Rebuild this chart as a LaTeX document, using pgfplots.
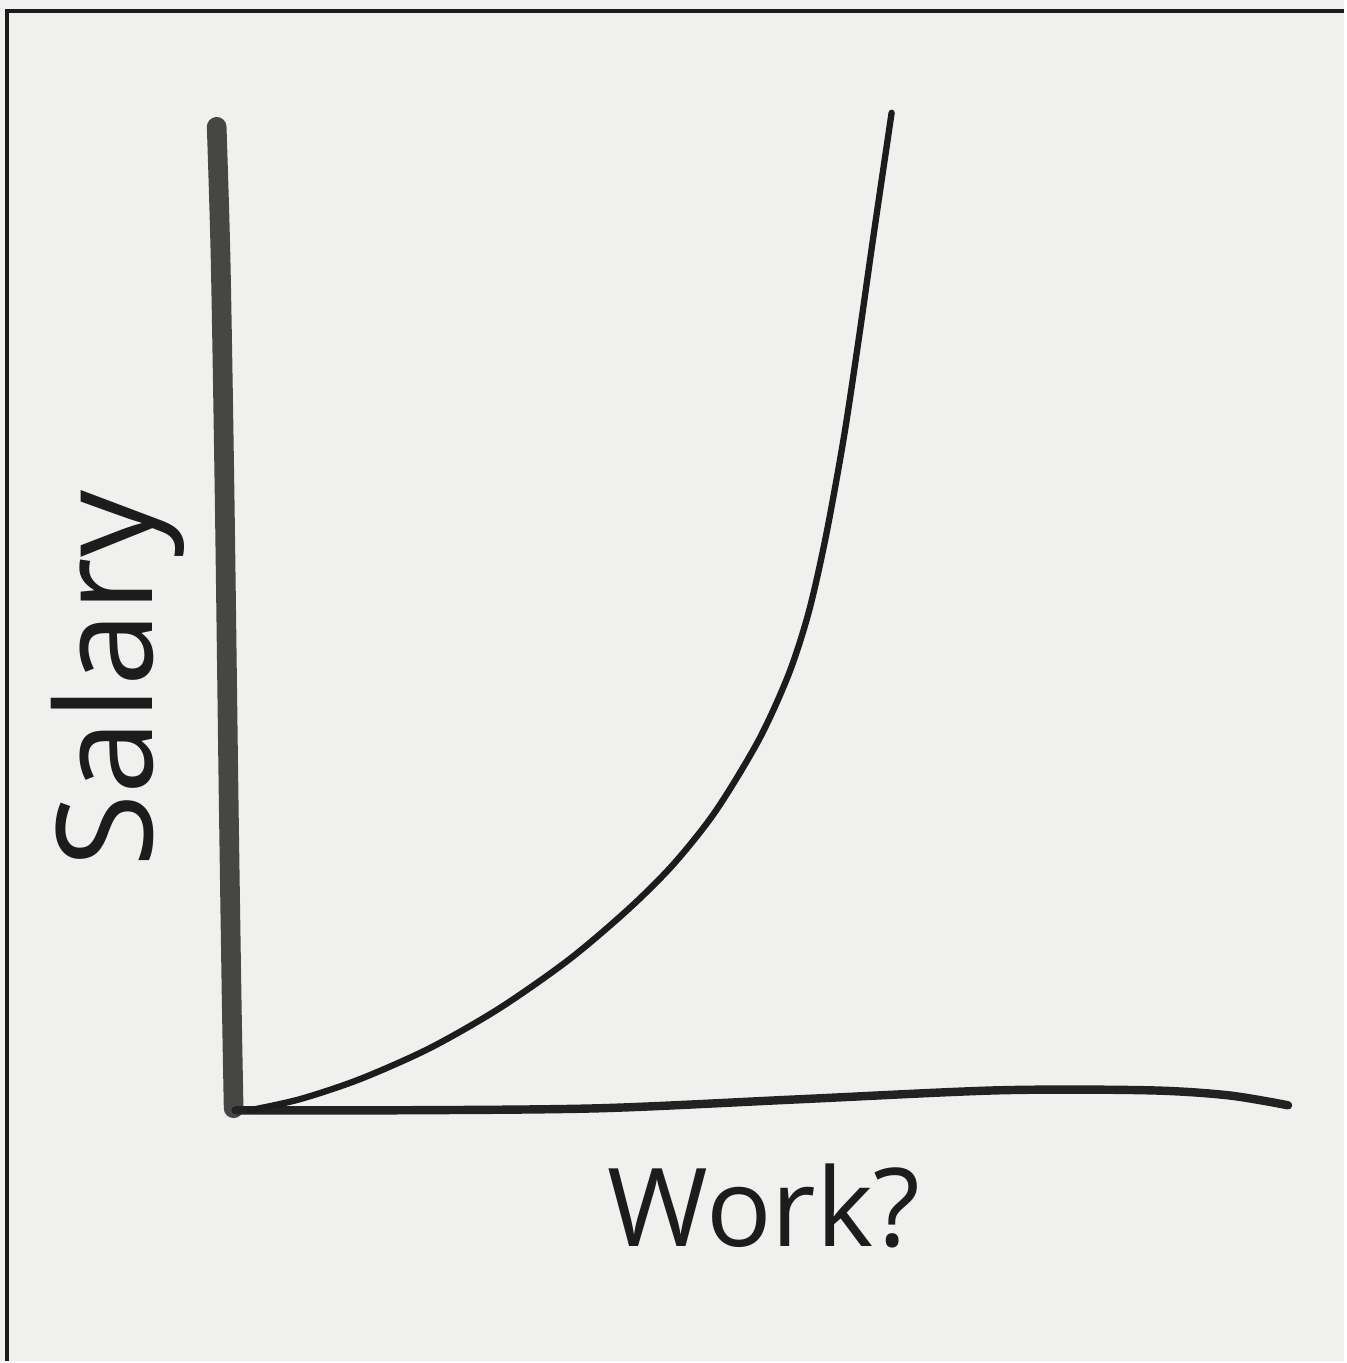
\documentclass[border=0pt]{standalone}
\usepackage{pgfplots}
\pgfplotsset{compat=1.18}
\usepackage{fontspec}
\setmainfont{Open Sans}
\definecolor{paper}{RGB}{240,240,238}
\definecolor{ink}{RGB}{28,28,28}
\definecolor{axisink}{RGB}{70,70,68}
\begin{document}
\begin{tikzpicture}
\begin{axis}[
  scale only axis, width=13.46cm, height=13.63cm,
  xmin=0, xmax=1346, ymin=0, ymax=1363,
  hide axis, clip=false,
  axis background/.style={fill=paper},
]
% frame (top and left edges only visible)
\draw[ink, line width=1.2pt] (axis cs:7,0) -- (axis cs:7,1352) -- (axis cs:1346,1352);
% vertical axis (thick marker stroke)
\addplot[axisink, line width=5.6pt, line cap=round, smooth] coordinates {
(217,1236) (221,1100) (225,863) (229,563) (232,363) (234,253)};
% horizontal axis
\addplot[ink!85!axisink, line width=2.4pt, line cap=round, smooth] coordinates {
(236,251) (400,251) (600,253) (800,262) (1000,271) (1150,271) (1230,266) (1290,256)};
% curve
\addplot[ink, line width=1.8pt, line cap=round, smooth] coordinates {
(250,251) (300,262) (360,282) (430,313) (500,353) (570,402) (630,453) (675,498) (717,551) (760,622) (790,688) (810,750) (827,825) (845,924) (860,1023) (875,1128) (893,1250)};
\node[rotate=90, font=\fontsize{38}{42}\selectfont, ink] at (axis cs:118,683) {Salary};
\node[font=\fontsize{31}{36}\selectfont, ink] at (axis cs:765,155) {Work?};
\end{axis}
\end{tikzpicture}
\end{document}
